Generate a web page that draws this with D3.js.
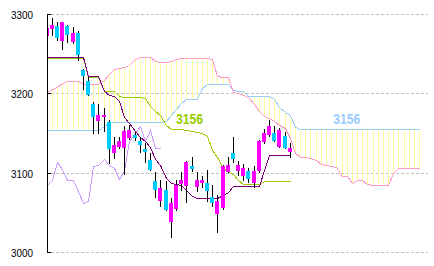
<!DOCTYPE html>
<html>
<head>
<meta charset="utf-8">
<script src="https://cdn.jsdelivr.net/npm/d3@7"></script>
<style>
  html, body { margin: 0; padding: 0; background: #fff; }
  svg { display: block; }
</style>
</head>
<body>
<svg id="chart"></svg>
<script>
const width = 434;
const height = 266;

// daily candles
const opens = [3273, 3282, 3286, 3267, 3285, 3265, 3277, 3230, 3216, 3187, 3166, 3171, 3165, 3125, 3133, 3132,
  3144, 3148, 3141, 3130, 3116, 3090, 3065, 3079, 3038, 3055, 3086, 3084, 3109, 3083, 3088, 3088,
  3070, 3049, 3056, 3102, 3125, 3103, 3096, 3103, 3087, 3103, 3139, 3148, 3151, 3133, 3147, 3127];
const highs = [3284, 3296, 3291, 3291, 3287, 3284, 3279, 3231, 3221, 3190, 3187, 3182, 3167, 3146, 3146, 3159,
  3161, 3152, 3146, 3138, 3125, 3102, 3091, 3090, 3069, 3091, 3101, 3115, 3120, 3101, 3097, 3104,
  3085, 3073, 3110, 3121, 3146, 3115, 3111, 3106, 3109, 3142, 3156, 3167, 3159, 3157, 3152, 3138];
const lows = [3272, 3273, 3266, 3255, 3264, 3263, 3241, 3205, 3197, 3149, 3149, 3152, 3112, 3118, 3131, 3098,
  3142, 3141, 3125, 3113, 3103, 3069, 3057, 3052, 3018, 3052, 3078, 3062, 3101, 3076, 3081, 3064,
  3057, 3024, 3054, 3100, 3113, 3096, 3090, 3088, 3081, 3100, 3137, 3146, 3139, 3132, 3130, 3119];
const closes = [3283, 3287, 3271, 3290, 3274, 3277, 3249, 3222, 3198, 3171, 3173, 3173, 3131, 3135, 3141, 3153,
  3155, 3144, 3136, 3127, 3104, 3079, 3081, 3054, 3062, 3085, 3091, 3114, 3105, 3092, 3091, 3077,
  3063, 3065, 3109, 3110, 3118, 3110, 3106, 3093, 3103, 3141, 3151, 3160, 3141, 3155, 3132, 3132];

// ichimoku lines
const tenkan = [3246, 3246, 3246, 3246, 3246, 3246, 3246, 3246, 3222, 3222, 3222, 3203, 3199, 3197, 3191, 3171,
  3163, 3153, 3146, 3141, 3133, 3118, 3110, 3094, 3088, 3086, 3085, 3079, 3071, 3069, 3069, 3069,
  3069, 3069, 3072, 3076, 3084, 3084, 3084, 3084, 3084, 3084, 3104, 3123, 3123, 3123, 3123, 3123];
const kijun = [3245, 3245, 3245, 3245, 3245, 3245, 3245, 3245, 3221, 3221, 3221, 3203, 3203, 3203, 3197, 3196,
  3196, 3196, 3196, 3195, 3185, 3178, 3173, 3161, 3156, 3156, 3156, 3154, 3153, 3152, 3151, 3147,
  3129, 3120, 3107, 3101, 3099, 3092, 3086, 3086, 3086, 3086, 3090, 3090, 3090, 3090, 3090, 3090];
const spanA = [3202, 3206, 3209, 3214, 3216, 3216, 3216, 3213, 3213, 3213, 3213, 3217, 3225, 3231, 3233, 3234,
  3236, 3244, 3246, 3246, 3246, 3241, 3240, 3240, 3241, 3244, 3245, 3245, 3245, 3245, 3245, 3245,
  3244, 3222, 3221, 3221, 3202, 3201, 3199, 3196, 3187, 3178, 3172, 3169, 3166, 3161, 3157, 3144,
  3125, 3121, 3121, 3119, 3116, 3111, 3110, 3109, 3108, 3097, 3096, 3088, 3091, 3091, 3086, 3085,
  3085, 3085, 3085, 3100, 3107, 3107, 3107, 3107, 3107];
const spanB = [3154, 3154, 3154, 3154, 3154, 3154, 3154, 3154, 3154, 3154, 3154, 3159, 3164, 3164, 3164, 3164,
  3164, 3164, 3164, 3164, 3164, 3164, 3164, 3166, 3173, 3181, 3188, 3193, 3194, 3194, 3207, 3213,
  3213, 3213, 3213, 3213, 3205, 3204, 3203, 3197, 3197, 3197, 3197, 3197, 3193, 3183, 3177, 3173,
  3158, 3156, 3156, 3156, 3156, 3156, 3156, 3156, 3156, 3156, 3156, 3156, 3156, 3156, 3156, 3156,
  3156, 3156, 3156, 3156, 3156, 3156, 3156, 3156, 3156];

const yTicks = [3000, 3100, 3200, 3300];
const shift = 25;
const kijunLabelAt = 25;

const svg = d3.select("#chart").attr("width", width).attr("height", height);

const x = d3.scaleLinear().domain([0, 72]).range([47.2, 419.6]);
const y = d3.scaleLinear().domain([3000, 3300]).range([252.5, 14.5]);
const col = (i) => Math.floor(x(i));
const row = (v) => Math.floor(y(v)) + 0.5;

svg.append("defs").append("clipPath").attr("id", "plot")
  .append("rect").attr("x", 47).attr("y", 0).attr("width", width - 47).attr("height", height);

// grid
svg.append("g")
  .selectAll("line")
  .data(yTicks)
  .join("line")
  .attr("x1", 51).attr("x2", 428)
  .attr("y1", row).attr("y2", row)
  .attr("stroke", "#c0c0c0")
  .attr("stroke-dasharray", "3,2")
  .attr("shape-rendering", "crispEdges");

const plot = svg.append("g").attr("clip-path", "url(#plot)");

// cloud
const idx = d3.range(spanA.length);
plot.append("g")
  .selectAll("line")
  .data(idx)
  .join("line")
  .attr("x1", (i) => col(i) + 0.5).attr("x2", (i) => col(i) + 0.5)
  .attr("y1", (i) => Math.round(y(spanA[i])))
  .attr("y2", (i) => Math.round(y(spanB[i])))
  .attr("stroke", "#ffff99")
  .attr("shape-rendering", "crispEdges");

// axis
const axis = svg.append("g").attr("shape-rendering", "crispEdges");
axis.append("line")
  .attr("x1", 47.5).attr("x2", 47.5)
  .attr("y1", Math.floor(y(3300))).attr("y2", Math.floor(y(3000)) + 1)
  .attr("stroke", "#000");
axis.selectAll("line.tick")
  .data(yTicks)
  .join("line")
  .attr("class", "tick")
  .attr("x1", 47).attr("x2", 51)
  .attr("y1", row).attr("y2", row)
  .attr("stroke", "#000");
svg.append("g")
  .selectAll("text")
  .data(yTicks)
  .join("text")
  .attr("x", 33)
  .attr("y", (t) => Math.floor(y(t)) + 4.8)
  .attr("text-anchor", "end")
  .attr("textLength", 22)
  .attr("lengthAdjust", "spacingAndGlyphs")
  .attr("font-family", "Liberation Sans, Arial, sans-serif")
  .attr("font-size", 11)
  .attr("fill", "#000")
  .text((t) => t);

// lines
function drawLine(values, offset, color) {
  const line = d3.line()
    .x((d, i) => col(i + offset) + 0.5)
    .y((d) => Math.round(y(d)) + 0.5);
  plot.append("path")
    .attr("d", line(values))
    .attr("fill", "none")
    .attr("stroke", color)
    .attr("stroke-width", 1)
    .attr("shape-rendering", "crispEdges");
}

drawLine(spanB, 0, "#99ccff");
drawLine(spanA, 0, "#ff99cc");
drawLine(closes.slice(shift), 0, "#cc99ff");
drawLine(kijun, 0, "#99cc00");
drawLine(tenkan, 0, "#800080");

// candles
const candles = plot.append("g").attr("shape-rendering", "crispEdges");
const bars = d3.range(opens.length);
candles.selectAll("line")
  .data(bars)
  .join("line")
  .attr("x1", (i) => col(i) + 0.5).attr("x2", (i) => col(i) + 0.5)
  .attr("y1", (i) => Math.round(y(highs[i])))
  .attr("y2", (i) => Math.round(y(lows[i])))
  .attr("stroke", "#000");
candles.selectAll("rect")
  .data(bars)
  .join("rect")
  .attr("x", (i) => col(i) - 2)
  .attr("width", 4)
  .attr("y", (i) => Math.round(y(Math.max(opens[i], closes[i]))))
  .attr("height", (i) => Math.max(1, Math.round(y(Math.min(opens[i], closes[i]))) - Math.round(y(Math.max(opens[i], closes[i])))))
  .attr("fill", (i) => (closes[i] >= opens[i] ? "#ff00ff" : "#00ccff"));

// value labels
const lastB = spanB[spanB.length - 1];
const labels = [
  { v: kijun[kijunLabelAt], at: kijunLabelAt - 0.1, color: "#99cc00" },
  { v: lastB, at: 55.3, color: "#99ccff" },
];
svg.append("g")
  .selectAll("text")
  .data(labels)
  .join("text")
  .attr("x", (d) => x(d.at))
  .attr("y", (d) => y(d.v) - 5)
  .attr("textLength", 27)
  .attr("lengthAdjust", "spacingAndGlyphs")
  .attr("font-family", "Liberation Sans, Arial, sans-serif")
  .attr("font-weight", "bold")
  .attr("font-size", 14)
  .attr("fill", (d) => d.color)
  .text((d) => Math.round(d.v));
</script>
</body>
</html>
